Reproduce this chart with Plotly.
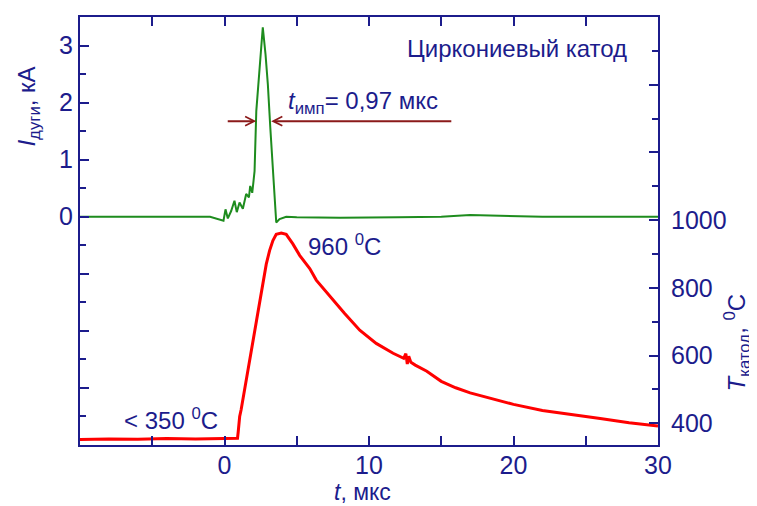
import plotly.graph_objects as go

# ---- data ----
t_arc = [-10, -6, -3, -1, -0.07, 0.07, 0.23, 0.46, 0.69, 0.85, 1.04, 1.27, 1.5, 1.69, 1.78,
         1.92, 2.01, 2.08, 2.2, 2.43, 2.65, 2.84, 3.0, 3.17, 3.35, 3.58, 3.81, 4.27, 5, 8,
         12, 15, 17, 19, 22, 26, 30]
i_arc = [0.0, 0.0, 0.0, 0.0, -0.07, 0.13, -0.03, 0.1, 0.28, 0.08, 0.25, 0.14, 0.4, 0.34, 0.54,
         0.42, 0.63, 0.8, 1.85, 2.6, 3.32, 2.84, 2.32, 1.56, 0.75, -0.1, -0.04, 0.0, -0.01, -0.02,
         -0.01, 0.0, 0.03, 0.02, 0.0, 0.0, 0.0]

t_temp = [-10, -8, -6, -4, -2, 0, 0.5, 0.9, 0.95, 1.05, 1.15, 1.27, 1.5, 1.75, 2.0, 2.3,
          2.65, 2.89, 3.12, 3.35, 3.58, 3.93, 4.27, 4.73, 5.2, 5.9, 6.35, 7.3, 8.3, 9.36,
          10.5, 11.67, 12.4, 12.55, 12.65, 12.75, 12.9, 13.2, 14.0, 15.0, 16.0, 17.0, 18.0,
          20.0, 22.0, 24.0, 26.0, 28.0, 30.0]
temp = [352, 354, 353, 355, 354, 355, 355, 356, 375, 420, 440, 470, 525, 590, 650, 730,
        815, 870, 910, 940, 958, 962, 958, 930, 896, 857, 823, 775, 725, 675,
        636, 607, 592, 606, 575, 598, 580, 572, 554, 524, 505, 490, 478,
        456, 438, 425, 414, 402, 392]

x_ticks = [0, 10, 20, 30]
x_minor = [-5, 5, 15, 25]
y1_ticks = [-4, -3, -2, -1, 0, 1, 2, 3]
y1_labels = ['', '', '', '', '0', '1', '2', '3']
y1_minor = [-3.5, -2.5, -1.5, -0.5, 0.5, 1.5, 2.5]
y2_ticks = [400, 600, 800, 1000, 1200, 1400]
y2_labels = ['400', '600', '800', '1000', '', '']
y2_minor = [500, 700, 900, 1100, 1300, 1500]

pulse_level = 1.675
pulse_left, pulse_right = 2.2, 3.23

NAVY = '#1c1c8c'
FONT = 'Liberation Sans, Arial, sans-serif'

fig = go.Figure()
fig.add_trace(go.Scatter(x=t_arc, y=i_arc, mode='lines',
                         line=dict(color='#1e8c1e', width=2), yaxis='y', showlegend=False))
fig.add_trace(go.Scatter(x=t_temp, y=temp, mode='lines',
                         line=dict(color='#ff0000', width=3), yaxis='y2', showlegend=False))

axis_common = dict(showgrid=False, zeroline=False, showline=True, linecolor=NAVY, linewidth=2,
                   ticks='inside', tickcolor=NAVY, tickwidth=2, ticklen=9,
                   tickfont=dict(family=FONT, size=25, color=NAVY))

# the page body adds an 8px offset; plot frame sits at x 80..658, y 15..445 in the window
W, H = 749, 498
L, R, T, B = 72, 99, 7, 61
PW, PH = W - L - R, H - T - B


def px(xw):
    return (xw - 8 - L) / PW


def py(yw):
    return (H - B - (yw - 8)) / PH


fig.update_layout(
    width=W, height=H,
    margin=dict(l=L, r=R, t=T, b=B),
    paper_bgcolor='white', plot_bgcolor='white',
    xaxis=dict(range=[-10, 30], tickmode='array', tickvals=x_ticks, mirror='allticks',
               ticklabelstandoff=-3,
               minor=dict(tickvals=x_minor, ticks='inside', ticklen=6, tickcolor=NAVY, tickwidth=2),
               **axis_common),
    yaxis=dict(range=[-4, 3.5], tickmode='array', tickvals=y1_ticks, ticktext=y1_labels,
               minor=dict(tickvals=y1_minor, ticks='inside', ticklen=6, tickcolor=NAVY, tickwidth=2),
               **axis_common),
    yaxis2=dict(range=[336, 1600], overlaying='y', side='right', tickmode='array',
                tickvals=y2_ticks, ticktext=y2_labels, ticklabelstandoff=6,
                minor=dict(tickvals=y2_minor, ticks='inside', ticklen=6, tickcolor=NAVY, tickwidth=2),
                **axis_common),
)

txt = dict(family=FONT, size=24, color=NAVY)
c = dict(xanchor='center', yanchor='middle', showarrow=False, font=txt)
ann = [
    dict(text='Циркониевый катод', xref='paper', yref='paper', x=px(517), y=py(47), **c),
    dict(text='<i>t</i><sub>имп</sub>= 0,97 мкс', xref='x', yref='y', x=9.6, y=2.0, **c),
    dict(text='960 <sup>0</sup>C', xref='x', yref='y2', x=8.3, y=926, **c),
    dict(text='< 350 <sup>0</sup>C', xref='x', yref='y2', x=-3.7, y=412, **c),
    dict(text='<i>I</i><sub>дуги</sub>, кА', xref='paper', yref='paper', x=px(29), y=py(105),
         textangle=-90, **c),
    dict(text='<i>T</i><sub>катод</sub>, <sup>0</sup>C', xref='paper', yref='paper', x=px(737),
         y=py(342), textangle=-90, **c),
    dict(text='<i>t</i>, мкс', xref='paper', yref='paper', x=px(362), y=py(492),
         xanchor='center', yanchor='middle', showarrow=False,
         font=dict(family=FONT, size=23, color=NAVY)),
    dict(text='', xref='x', yref='y', x=pulse_left, y=pulse_level, axref='x', ayref='y',
         ax=0.12, ay=pulse_level, showarrow=True, arrowhead=5, arrowsize=0.9,
         arrowwidth=2, arrowcolor='#8b1a1a'),
    dict(text='', xref='x', yref='y', x=pulse_right, y=pulse_level, axref='x', ayref='y',
         ax=15.8, ay=pulse_level, showarrow=True, arrowhead=5, arrowsize=0.9,
         arrowwidth=2, arrowcolor='#8b1a1a'),
]
fig.update_layout(annotations=ann)

fig.write_html('out.html')
